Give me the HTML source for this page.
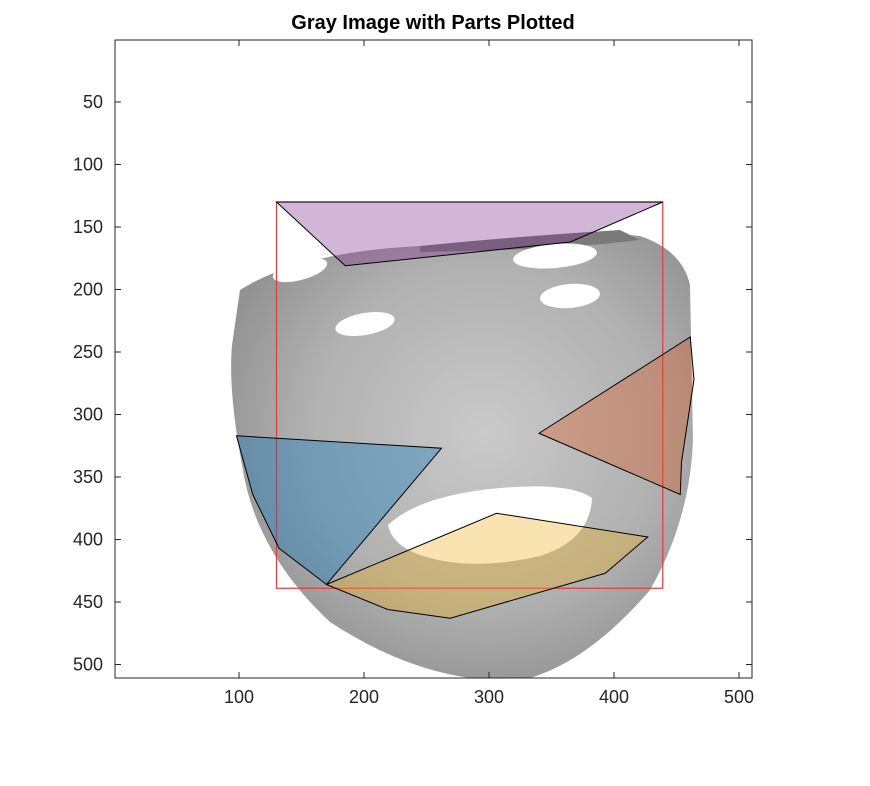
<!DOCTYPE html>
<html><head><meta charset="utf-8"><style>
body{margin:0;background:#fff;font-family:"Liberation Sans",sans-serif}
svg text{font-family:"Liberation Sans",sans-serif;fill:#262626}
</style></head><body>
<svg id="c" width="870" height="781" xmlns="http://www.w3.org/2000/svg">
<defs>
<radialGradient id="fg" cx="0.55" cy="0.45" r="0.65">
<stop offset="0" stop-color="#cacaca"/><stop offset="0.6" stop-color="#b0b0b0"/><stop offset="1" stop-color="#8c8c8c"/>
</radialGradient>
<clipPath id="ax"><rect x="115" y="40" width="637" height="638"/></clipPath>
</defs>
<rect x="0" y="0" width="870" height="781" fill="#fff"/>
<text x="433" y="29" text-anchor="middle" font-size="20" font-weight="bold" style="fill:#000">Gray Image with Parts Plotted</text>
<g clip-path="url(#ax)">
<path d="M240 290 Q300 252 420 246 L560 244 Q610 232 640 236 Q682 250 690 285 L693 440 Q690 520 650 590 Q590 660 530 678 L470 678 Q400 668 330 622 Q255 552 242 465 Q228 390 232 345 Z" fill="url(#fg)"/>
<path d="M420 246 Q520 236 620 230 L640 240 Q560 250 420 252 Z" fill="#7a7a7a"/>
<ellipse cx="300" cy="270" rx="28" ry="10" fill="#fff" transform="rotate(-15 300 270)"/>
<ellipse cx="555" cy="256" rx="42" ry="12" fill="#fff" transform="rotate(-5 555 256)"/>
<ellipse cx="365" cy="324" rx="30" ry="11" fill="#fff" transform="rotate(-10 365 324)"/>
<ellipse cx="570" cy="296" rx="30" ry="12" fill="#fff" transform="rotate(-5 570 296)"/>
<path d="M388 525 Q420 495 500 488 Q570 482 592 498 Q590 540 540 556 Q470 572 420 555 Q392 545 388 525 Z" fill="#fff"/>
</g>
<g id="polys"></g>
<rect x="115" y="40" width="637" height="638" fill="none" stroke="#262626" stroke-width="1"/>
<g id="ticks"></g>
</svg>
<script>
const xTicks=[100,200,300,400,500];
const yTicks=[50,100,150,200,250,300,350,400,450,500];
const purpleX=[130,439,365,185], purpleY=[130,130,162,181];
const orangeX=[340,461,464,454,453], orangeY=[315,238,272,338,364];
const blueX=[98,262,170,132,111], blueY=[317,327,436,407,364];
const yellowX=[170,306,427,393,269,219], yellowY=[436,379,398,427,463,456];
const rectX=[130,439], rectY=[130,439];
const X=v=>114+v*1.25, Y=v=>39.5+v*1.25;
const NS='http://www.w3.org/2000/svg';
const pg=document.getElementById('polys');
function poly(xs,ys,fill,name){
 const p=document.createElementNS(NS,'polygon');
 p.setAttribute('points',xs.map((x,i)=>X(x)+','+Y(ys[i])).join(' '));
 p.setAttribute('fill',fill);p.setAttribute('fill-opacity','0.35');
 p.setAttribute('stroke','#000');p.setAttribute('stroke-width','1');
 
 
 pg.appendChild(p);
}
const r=document.createElementNS(NS,'rect');
r.setAttribute('x',X(rectX[0]));r.setAttribute('y',Y(rectY[0]));
r.setAttribute('width',X(rectX[1])-X(rectX[0]));r.setAttribute('height',Y(rectY[1])-Y(rectY[0]));
r.setAttribute('fill','none');r.setAttribute('stroke','#e0393e');r.setAttribute('stroke-width','1.2');


pg.appendChild(r);
poly(purpleX,purpleY,'#7E2F8E','forehead-part');
poly(orangeX,orangeY,'#D95319','right-cheek-part');
poly(blueX,blueY,'#0072BD','left-cheek-part');
poly(yellowX,yellowY,'#EDB120','mouth-part');
const tg=document.getElementById('ticks');
function line(x1,y1,x2,y2){const l=document.createElementNS(NS,'line');
 l.setAttribute('x1',x1);l.setAttribute('y1',y1);l.setAttribute('x2',x2);l.setAttribute('y2',y2);
 l.setAttribute('stroke','#262626');
 
 
 tg.appendChild(l);}
function label(x,y,t,anchor,name){const e=document.createElementNS(NS,'text');
 e.setAttribute('x',x);e.setAttribute('y',y);e.setAttribute('text-anchor',anchor);e.setAttribute('font-size','18');
 e.textContent=t;
 
 
 tg.appendChild(e);}
xTicks.forEach(v=>{const x=X(v);line(x,678,x,672);line(x,40,x,46);label(x,703,v,'middle','x-tick-label');});
yTicks.forEach(v=>{const y=Y(v);line(115,y,121,y);line(752,y,746,y);label(103,y+6,v,'end','y-tick-label');});
</script>
</body></html>
